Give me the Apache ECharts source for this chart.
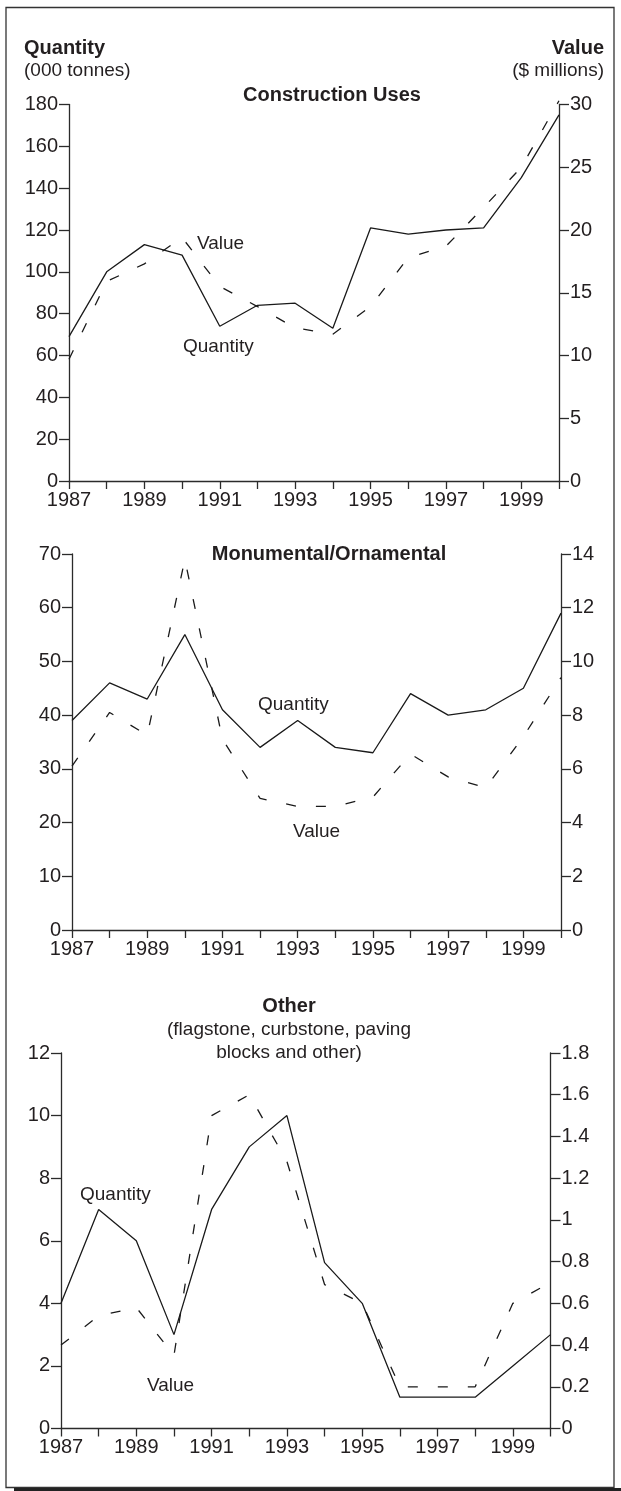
<!DOCTYPE html>
<html>
<head>
<meta charset="utf-8">
<script src="https://cdn.jsdelivr.net/npm/echarts@6/dist/echarts.min.js"></script>
<style>
  html, body { margin: 0; padding: 0; background: #ffffff; }
  #chart { width: 621px; height: 1491px; }
</style>
</head>
<body>
<div id="chart"></div>
<script>
// ---- Data ----
const years = ['1987','1988','1989','1990','1991','1992','1993','1994','1995','1996','1997','1998','1999','2000'];

const constructionQuantity = [69, 100, 113, 108, 74, 84, 85, 73, 121, 118, 120, 121, 145, 175];
const constructionValue    = [9.7, 15.9, 17.3, 19.4, 15.5, 13.9, 12.2, 11.7, 13.9, 17.8, 18.7, 21.8, 25.0, 30.3];

const monumentalQuantity = [39, 46, 43, 55, 41, 34, 39, 34, 33, 44, 40, 41, 45, 59];
const monumentalValue    = [6.1, 8.1, 7.25, 13.8, 7.1, 4.9, 4.6, 4.6, 4.95, 6.55, 5.7, 5.3, 7.2, 9.4];

const otherQuantity = [4, 7, 6, 3, 7, 9, 10, 5.3, 4, 1, 1, 1, 2, 3];
const otherValue    = [0.4, 0.54, 0.58, 0.35, 1.5, 1.6, 1.28, 0.69, 0.6, 0.2, 0.2, 0.2, 0.6, 0.7];

// axis ranges: [min, max, interval]
const constructionQuantityAxis = [0, 180, 20];
const constructionValueAxis    = [0, 30, 5];
const monumentalQuantityAxis   = [0, 70, 10];
const monumentalValueAxis      = [0, 14, 2];
const otherQuantityAxis        = [0, 12, 2];
const otherValueAxis           = [0, 1.8, 0.2];

// ---- Styling ----
const FONT = '"Liberation Sans", Arial, Helvetica, sans-serif';
const INK = '#231f20';
const AXIS = '#2b2b2b';

const grids = [
  { left: 69, top: 104.5, width: 490, height: 376.5 },
  { left: 72, top: 554, width: 489, height: 376 },
  { left: 61, top: 1053, width: 489.5, height: 375.5 }
];

function xAxisFor(i) {
  return {
    type: 'category', gridIndex: i, data: years, boundaryGap: false,
    axisLine: { show: true, lineStyle: { color: AXIS, width: 1.3 } },
    axisTick: { show: true, interval: 0, length: 8, lineStyle: { color: AXIS, width: 1.3 } },
    axisLabel: { interval: 1, fontSize: 20, color: INK, margin: 9, fontFamily: FONT },
    splitLine: { show: false }
  };
}
function yAxisFor(i, range, pos) {
  return {
    type: 'value', gridIndex: i, position: pos,
    min: range[0], max: range[1], interval: range[2],
    axisLine: { show: true, lineStyle: { color: AXIS, width: 1.3 } },
    axisTick: { show: true, length: 10, lineStyle: { color: AXIS, width: 1.3 } },
    axisLabel: { fontSize: 20, color: INK, margin: 11, fontFamily: FONT },
    splitLine: { show: false }
  };
}
function solid(i, data) {
  return {
    type: 'line', xAxisIndex: i, yAxisIndex: i * 2, data: data,
    showSymbol: false, symbol: 'none', clip: false, silent: true,
    lineStyle: { color: '#1a1a1a', width: 1.3 }
  };
}
function dashed(i, data) {
  return {
    type: 'line', xAxisIndex: i, yAxisIndex: i * 2 + 1, data: data,
    showSymbol: false, symbol: 'none', clip: false, silent: true,
    lineStyle: { color: '#1a1a1a', width: 1.3, type: [10, 20] }
  };
}
function txt(x, y, s, opts) {
  return {
    type: 'text', x: x, y: y, silent: true,
    style: Object.assign({
      text: s, fill: INK, font: '19px ' + FONT,
      textAlign: 'left', textVerticalAlign: 'middle'
    }, opts || {})
  };
}

const option = {
  animation: false,
  backgroundColor: '#ffffff',
  grid: grids,
  xAxis: [xAxisFor(0), xAxisFor(1), xAxisFor(2)],
  yAxis: [
    yAxisFor(0, constructionQuantityAxis, 'left'), yAxisFor(0, constructionValueAxis, 'right'),
    yAxisFor(1, monumentalQuantityAxis, 'left'),   yAxisFor(1, monumentalValueAxis, 'right'),
    yAxisFor(2, otherQuantityAxis, 'left'),        yAxisFor(2, otherValueAxis, 'right')
  ],
  series: [
    solid(0, constructionQuantity), dashed(0, constructionValue),
    solid(1, monumentalQuantity),   dashed(1, monumentalValue),
    solid(2, otherQuantity),        dashed(2, otherValue)
  ],
  graphic: [
    // frame
    { type: 'rect', shape: { x: 6, y: 7.5, width: 608, height: 1480 }, silent: true,
      style: { fill: 'none', stroke: '#333', lineWidth: 1.3 } },
    { type: 'rect', shape: { x: 14, y: 1488, width: 607, height: 3 }, silent: true,
      style: { fill: '#222', stroke: 'none' } },
    // header
    txt(24, 48, 'Quantity', { font: 'bold 20px ' + FONT }),
    txt(24, 71, '(000 tonnes)'),
    txt(604, 48, 'Value', { font: 'bold 20px ' + FONT, textAlign: 'right' }),
    txt(604, 71, '($ millions)', { textAlign: 'right' }),
    // chart titles
    txt(332, 95, 'Construction Uses', { font: 'bold 20px ' + FONT, textAlign: 'center' }),
    txt(329, 554, 'Monumental/Ornamental', { font: 'bold 20px ' + FONT, textAlign: 'center' }),
    txt(289, 1006, 'Other', { font: 'bold 20px ' + FONT, textAlign: 'center' }),
    txt(289, 1030, '(flagstone, curbstone, paving', { textAlign: 'center' }),
    txt(289, 1053, 'blocks and other)', { textAlign: 'center' }),
    // series annotations
    txt(197, 244, 'Value'),
    txt(183, 347, 'Quantity'),
    txt(258, 705, 'Quantity'),
    txt(293, 832, 'Value'),
    txt(80, 1195, 'Quantity'),
    txt(147, 1386, 'Value')
  ]
};

const chart = echarts.init(document.getElementById('chart'), null, { renderer: 'canvas' });
chart.setOption(option);
</script>
</body>
</html>
